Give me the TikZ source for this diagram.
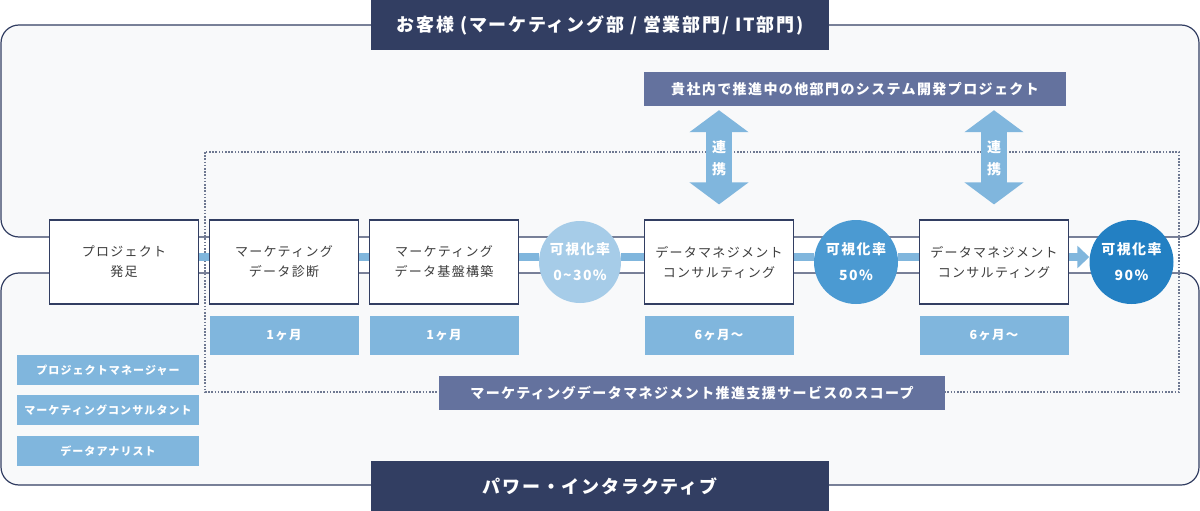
\documentclass[tikz,border=0pt]{standalone}
\usepackage{fontspec}
\setmainfont{Noto Sans CJK JP}[LetterSpace=10]
\usetikzlibrary{arrows.meta, positioning, backgrounds}

\definecolor{navy}{RGB}{50,62,98}
\definecolor{slate}{RGB}{100,114,158}
\definecolor{lblue}{RGB}{128,182,221}
\definecolor{rate1}{RGB}{166,204,232}
\definecolor{rate2}{RGB}{75,154,210}
\definecolor{rate3}{RGB}{35,128,195}
\definecolor{panelbg}{RGB}{248,249,250}
\definecolor{dotgray}{RGB}{110,120,145}
\definecolor{inkgray}{RGB}{60,60,60}

\begin{document}
\begin{tikzpicture}[x=1pt, y=-1pt,
  panel/.style={draw=navy, line width=1.2pt, fill=panelbg, rounded corners=18pt},
  stepbox/.style={draw=navy, line width=1.2pt, fill=white, minimum width=149pt,
    minimum height=84pt, align=center, text=inkgray,
    font=\fontsize{13}{20}\selectfont},
  rate/.style={circle, minimum size=84pt, inner sep=0pt, align=center, text=white,
    font=\bfseries\fontsize{14}{26}\selectfont},
  termbox/.style={fill=lblue, minimum width=149pt, minimum height=39pt, text=white,
    font=\bfseries\fontsize{12.5}{14}\selectfont},
  role/.style={fill=lblue, minimum width=182pt, minimum height=30pt, text=white,
    font=\bfseries\fontsize{11}{13}\selectfont},
  banner/.style={fill=navy, minimum width=458pt, minimum height=50pt, text=white,
    font=\bfseries\fontsize{18}{20}\selectfont},
  tag/.style={fill=slate, minimum height=34pt, text=white,
    font=\bfseries\fontsize{14}{16}\selectfont},
  flowbar/.style={lblue, line width=8pt},
  syncarrow/.style={lblue, line width=26pt,
    {Triangle[length=22pt,width=58pt]}-{Triangle[length=22pt,width=58pt]}},
]
  \useasboundingbox (0,0) rectangle (1200,511);

  % Panels and scope frame
  \begin{scope}[on background layer]
    \draw[panel] (1,25) rectangle (1199,237);
    \draw[panel] (1,273) rectangle (1199,485);
    \draw[dotgray, line width=1.3pt, dash pattern=on 1.6pt off 1.6pt]
      (205,152) rectangle (1179,392);
  \end{scope}

  % Titles
  \node[banner] (client) at (600,25) {お客様 (マーケティング部 / 営業部門/ IT部門)};
  \node[banner] (vendor) at (600,486) {パワー・インタラクティブ};

  % Steps and visualisation rates
  \node[stepbox] (start) at (124,262) {プロジェクト\\発足};
  \node[stepbox] (diag) at (284,262) {マーケティング\\データ診断};
  \node[stepbox] (build) at (444,262) {マーケティング\\データ基盤構築};
  \node[rate, fill=rate1, minimum size=82pt] (low) at (580,262) {可視化率\\0\textasciitilde30\%};
  \node[stepbox] (consultA) at (719,262) {データマネジメント\\コンサルティング};
  \node[rate, fill=rate2] (mid) at (856,262) {可視化率\\50\%};
  \node[stepbox] (consultB) at (994,262) {データマネジメント\\コンサルティング};
  \node[rate, fill=rate3] (high) at (1131.5,262) {可視化率\\90\%};

  % Durations
  \node[termbox, below=11pt of diag] (diagterm) {1ヶ月};
  \node[termbox, below=11pt of build] (buildterm) {1ヶ月};
  \node[termbox, below=11pt of consultA] (termA) {6ヶ月〜};
  \node[termbox, below=11pt of consultB] (termB) {6ヶ月〜};

  % Roles
  \node[role] (pm) at (108,370) {プロジェクトマネージャー};
  \node[role, below=10pt of pm] (mc) {マーケティングコンサルタント};
  \node[role, below=10pt of mc] (da) {データアナリスト};

  % Labels
  \node[tag, minimum width=422pt] (other) at (855,89)
    {貴社内で推進中の他部門のシステム開発プロジェクト};
  \node[tag, minimum width=506pt] (scope) at (692,393)
    {マーケティングデータマネジメント推進支援サービスのスコープ};

  % Flow bar
  \begin{scope}[on background layer]
    \foreach \a/\b in {start/diag, diag/build, build/low, low/consultA,
                       consultA/mid, mid/consultB}
      \draw[flowbar] ([yshift=5pt]\a.east) -- ([yshift=5pt]\b.west);
    \draw[flowbar, -{Triangle[length=12pt,width=22pt]}]
      ([yshift=5pt]consultB.east) -- ([yshift=5pt]high.west);
  \end{scope}

  % Links to the other project
  \foreach \n in {consultA, consultB}
    \draw[syncarrow, shorten <=15pt, shorten >=4pt] (\n.north) -- (\n.north |- other.south)
      node[pos=0.54, text=white, align=center,
           font=\bfseries\fontsize{14}{22}\selectfont] {連\\携};
\end{tikzpicture}
\end{document}
